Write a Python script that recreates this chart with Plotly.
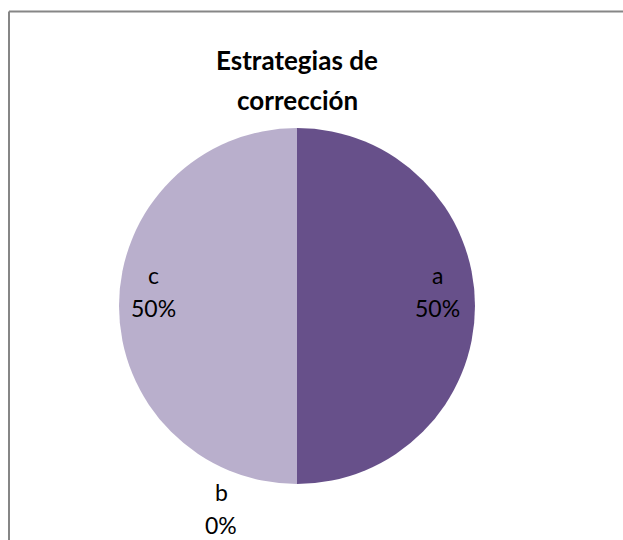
import plotly.graph_objects as go

# Chart data
categories = ["a", "b", "c"]
values = [50, 0, 50]
slice_colors = ["#67508A", "#FFFFFF", "#B9AFCC"]
title_lines = ["Estrategias de", "corrección"]

W, H = 623, 540
total = sum(values)
percents = [f"{round(v / total * 100)}%" for v in values]


def fx(px):
    return px / W


def fy(py):
    return (H - py) / H


fig = go.Figure(go.Pie(
    labels=categories,
    values=values,
    sort=False,
    direction="clockwise",
    rotation=0,
    marker=dict(colors=slice_colors, line=dict(width=0)),
    textinfo="none",
    hoverinfo="label+percent",
    showlegend=False,
    domain=dict(x=[fx(119), fx(475)], y=[fy(484), fy(128)]),
))

# label positions (x centre, y of first line) in pixels
label_pos = {"a": (437, 275), "b": (221, 492), "c": (153, 275)}
line_gap = 33

annotations = []
for cat, pct in zip(categories, percents):
    px, py = label_pos[cat]
    for i, txt in enumerate([cat, pct]):
        annotations.append(dict(
            x=fx(px), y=fy(py + i * line_gap), xref="paper", yref="paper",
            text=txt, showarrow=False,
            font=dict(family="Lato", size=23, color="#000000"),
            xanchor="center", yanchor="middle",
        ))

for i, txt in enumerate(title_lines):
    annotations.append(dict(
        x=fx(297), y=fy(60 + i * 40), xref="paper", yref="paper",
        text=f"<b>{txt}</b>", showarrow=False,
        font=dict(family="Lato", size=26, color="#000000"),
        xanchor="center", yanchor="middle",
    ))

border = dict(color="#868686", width=2)
fig.update_layout(
    width=W, height=H,
    margin=dict(l=0, r=0, t=0, b=0),
    paper_bgcolor="#FFFFFF",
    plot_bgcolor="#FFFFFF",
    annotations=annotations,
    shapes=[
        dict(type="line", xref="paper", yref="paper",
             x0=fx(9), x1=fx(9), y0=-0.05, y1=fy(11.5), line=border),
        dict(type="line", xref="paper", yref="paper",
             x0=fx(9), x1=1.05, y0=fy(11.5), y1=fy(11.5), line=border),
    ],
)

# drop the default body margin so the figure fills the window exactly
fig.write_html(
    "out.html",
    config={"displayModeBar": False},
    post_script="document.body.style.margin='0';",
)
